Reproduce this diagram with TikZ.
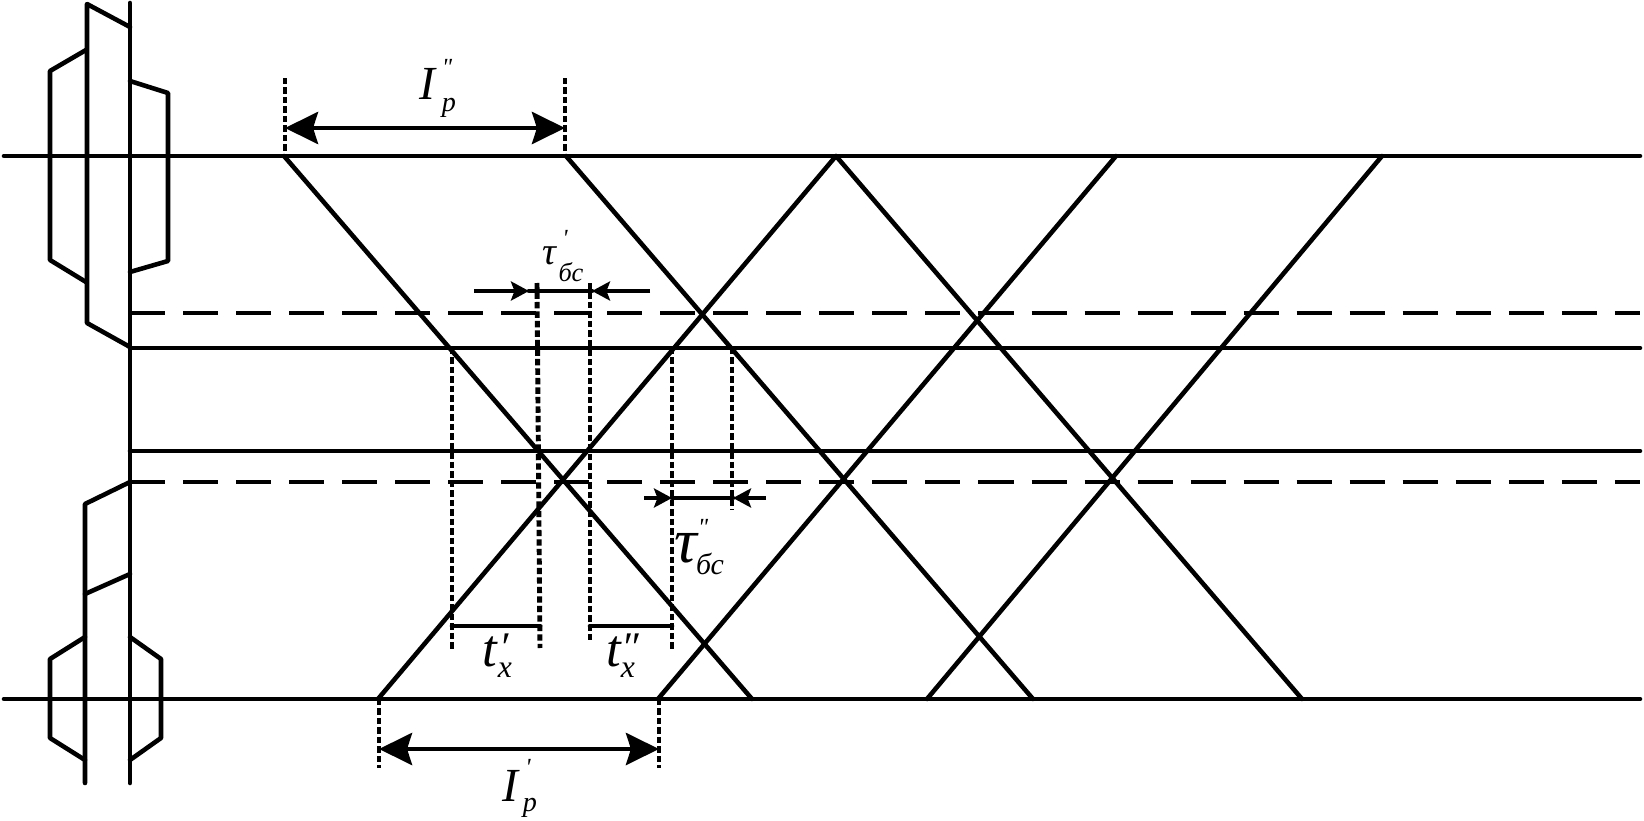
\documentclass[tikz,border=0pt]{standalone}
\usepackage{fontspec}
\usetikzlibrary{arrows.meta,calc}
\newfontfamily\labfont[ItalicFont={Liberation Serif Italic}]{Liberation Serif}
\tikzset{line/.style={line width=1.3pt,line join=round,line cap=round},
 proj/.style={line width=1.4pt,dash pattern=on 1.8pt off 0.9pt},
 axisdash/.style={line width=1.3pt,dash pattern=on 0.35cm off 0.18cm},
 dimbig/.style={line width=1.3pt,{Stealth[length=3.3mm,width=3.2mm,inset=0.5mm]}-{Stealth[length=3.3mm,width=3.2mm,inset=0.5mm]}},
 dimin/.style={line width=1.3pt,-{Stealth[length=1.8mm,width=1.9mm,inset=0.35mm]}},
 lab/.style={inner sep=0pt,font=\labfont\itshape}}
\newcommand{\fs}[1]{\fontsize{#1}{#1}\selectfont}

\begin{document}
\begin{tikzpicture}[x=0.01cm,y=-0.01cm]
\useasboundingbox (0,0) rectangle (1644,821);
% shaft and gears
\draw[line] (130,3)--(130,783);
\draw[line] (130,27)--(87,4)--(87,323)--(130,347);
\draw[line] (86,50)--(50,71)--(50,260)--(86,282);
\draw[line] (130,81)--(168,93)--(168,261)--(130,272);
\draw[line] (130,482)--(85,504)--(85,783);
\draw[line] (85,594)--(130,574);
\draw[line] (85,637)--(50,659)--(50,738)--(85,760);
\draw[line] (130,637)--(161,659)--(161,738)--(130,760);
% horizontal lines
\draw[line] (4,156)--(1640,156);
\draw[line] (130,348)--(1640,348);
\draw[line] (130,451)--(1640,451);
\draw[line] (4,699)--(1640,699);
\draw[axisdash] (130,313)--(1640,313);
\draw[axisdash] (130,482)--(1640,482);
% contact lines
\draw[line] (284,156)--(752,699);
\draw[line] (566,156)--(1033,699);
\draw[line] (836,156)--(1302,699);
\draw[line] (378,699)--(836,156);
\draw[line] (658,699)--(1116,156);
\draw[line] (927,699)--(1382,156);
% projection lines
\draw[proj] (285,78)--(285,156);
\draw[proj] (565,78)--(565,156);
\draw[proj] (379,699)--(379,768);
\draw[proj] (659,699)--(659,768);
\draw[proj] (537,283)--(540,648);
\draw[proj] (590,283)--(590,640);
\draw[proj] (452,348)--(452,650);
\draw[proj] (672,348)--(672,650);
\draw[proj] (732,348)--(732,510);
% dimensions
\coordinate (ipa) at (285,128);
\coordinate (ipb) at (565,128);
\coordinate (ioa) at (379,749);
\coordinate (iob) at (659,749);
\draw[dimbig] (ipa)--(ipb);
\draw[dimbig] (ioa)--(iob);
\coordinate (tpa) at (474,291);
\coordinate (tpb) at (650,291);
\coordinate (tpc) at (529,291);
\coordinate (tpd) at (592,291);
\draw[dimin] (tpa)--(tpc);
\draw[dimin] (tpb)--(tpd);
\draw[line] (tpc)--(tpd);
\coordinate (tqa) at (644,498);
\coordinate (tqb) at (766,498);
\coordinate (tqc) at (672,498);
\coordinate (tqd) at (733,498);
\draw[dimin] (tqa)--(tqc);
\draw[dimin] (tqb)--(tqd);
\draw[line] (tqc)--(tqd);
\draw[line] (452,626)--(540,626);
\draw[line] (590,626)--(672,626);
% labels
\node[lab] (lipp) at (427,84) {\fs{13.5}I};
\node[lab] (lipq) at (447,67) {\fs{7}"};
\node[lab] (lipr) at (449,108) {\fs{8}p};
\node[lab] (liop) at (510,786) {\fs{13.5}I};
\node[lab] (lioq) at (528,767) {\fs{7}'};
\node[lab] (lior) at (530,808) {\fs{8}p};
\node[lab] (ltap) at (549,256) {\fs{11}τ};
\node[lab] (ltaq) at (565,238) {\fs{7}'};
\node[lab] (ltar) at (571,272) {\fs{7.5}бс};
\node[lab] (ltbp) at (686,548) {\fs{18}τ};
\node[lab] (ltbq) at (703,527) {\fs{7}"};
\node[lab] (ltbr) at (710,564) {\fs{8.5}бс};
\node[lab] (ltxa) at (490,652) {\fs{15}t};
\node[lab] (ltxb) at (504,648) {\fs{12}′};
\node[lab] (ltxc) at (505,670) {\fs{9}x};
\node[lab] (ltya) at (614,652) {\fs{15}t};
\node[lab] (ltyb) at (630,648) {\fs{12}″};
\node[lab] (ltyc) at (628,670) {\fs{9}x};
\end{tikzpicture}
\end{document}
